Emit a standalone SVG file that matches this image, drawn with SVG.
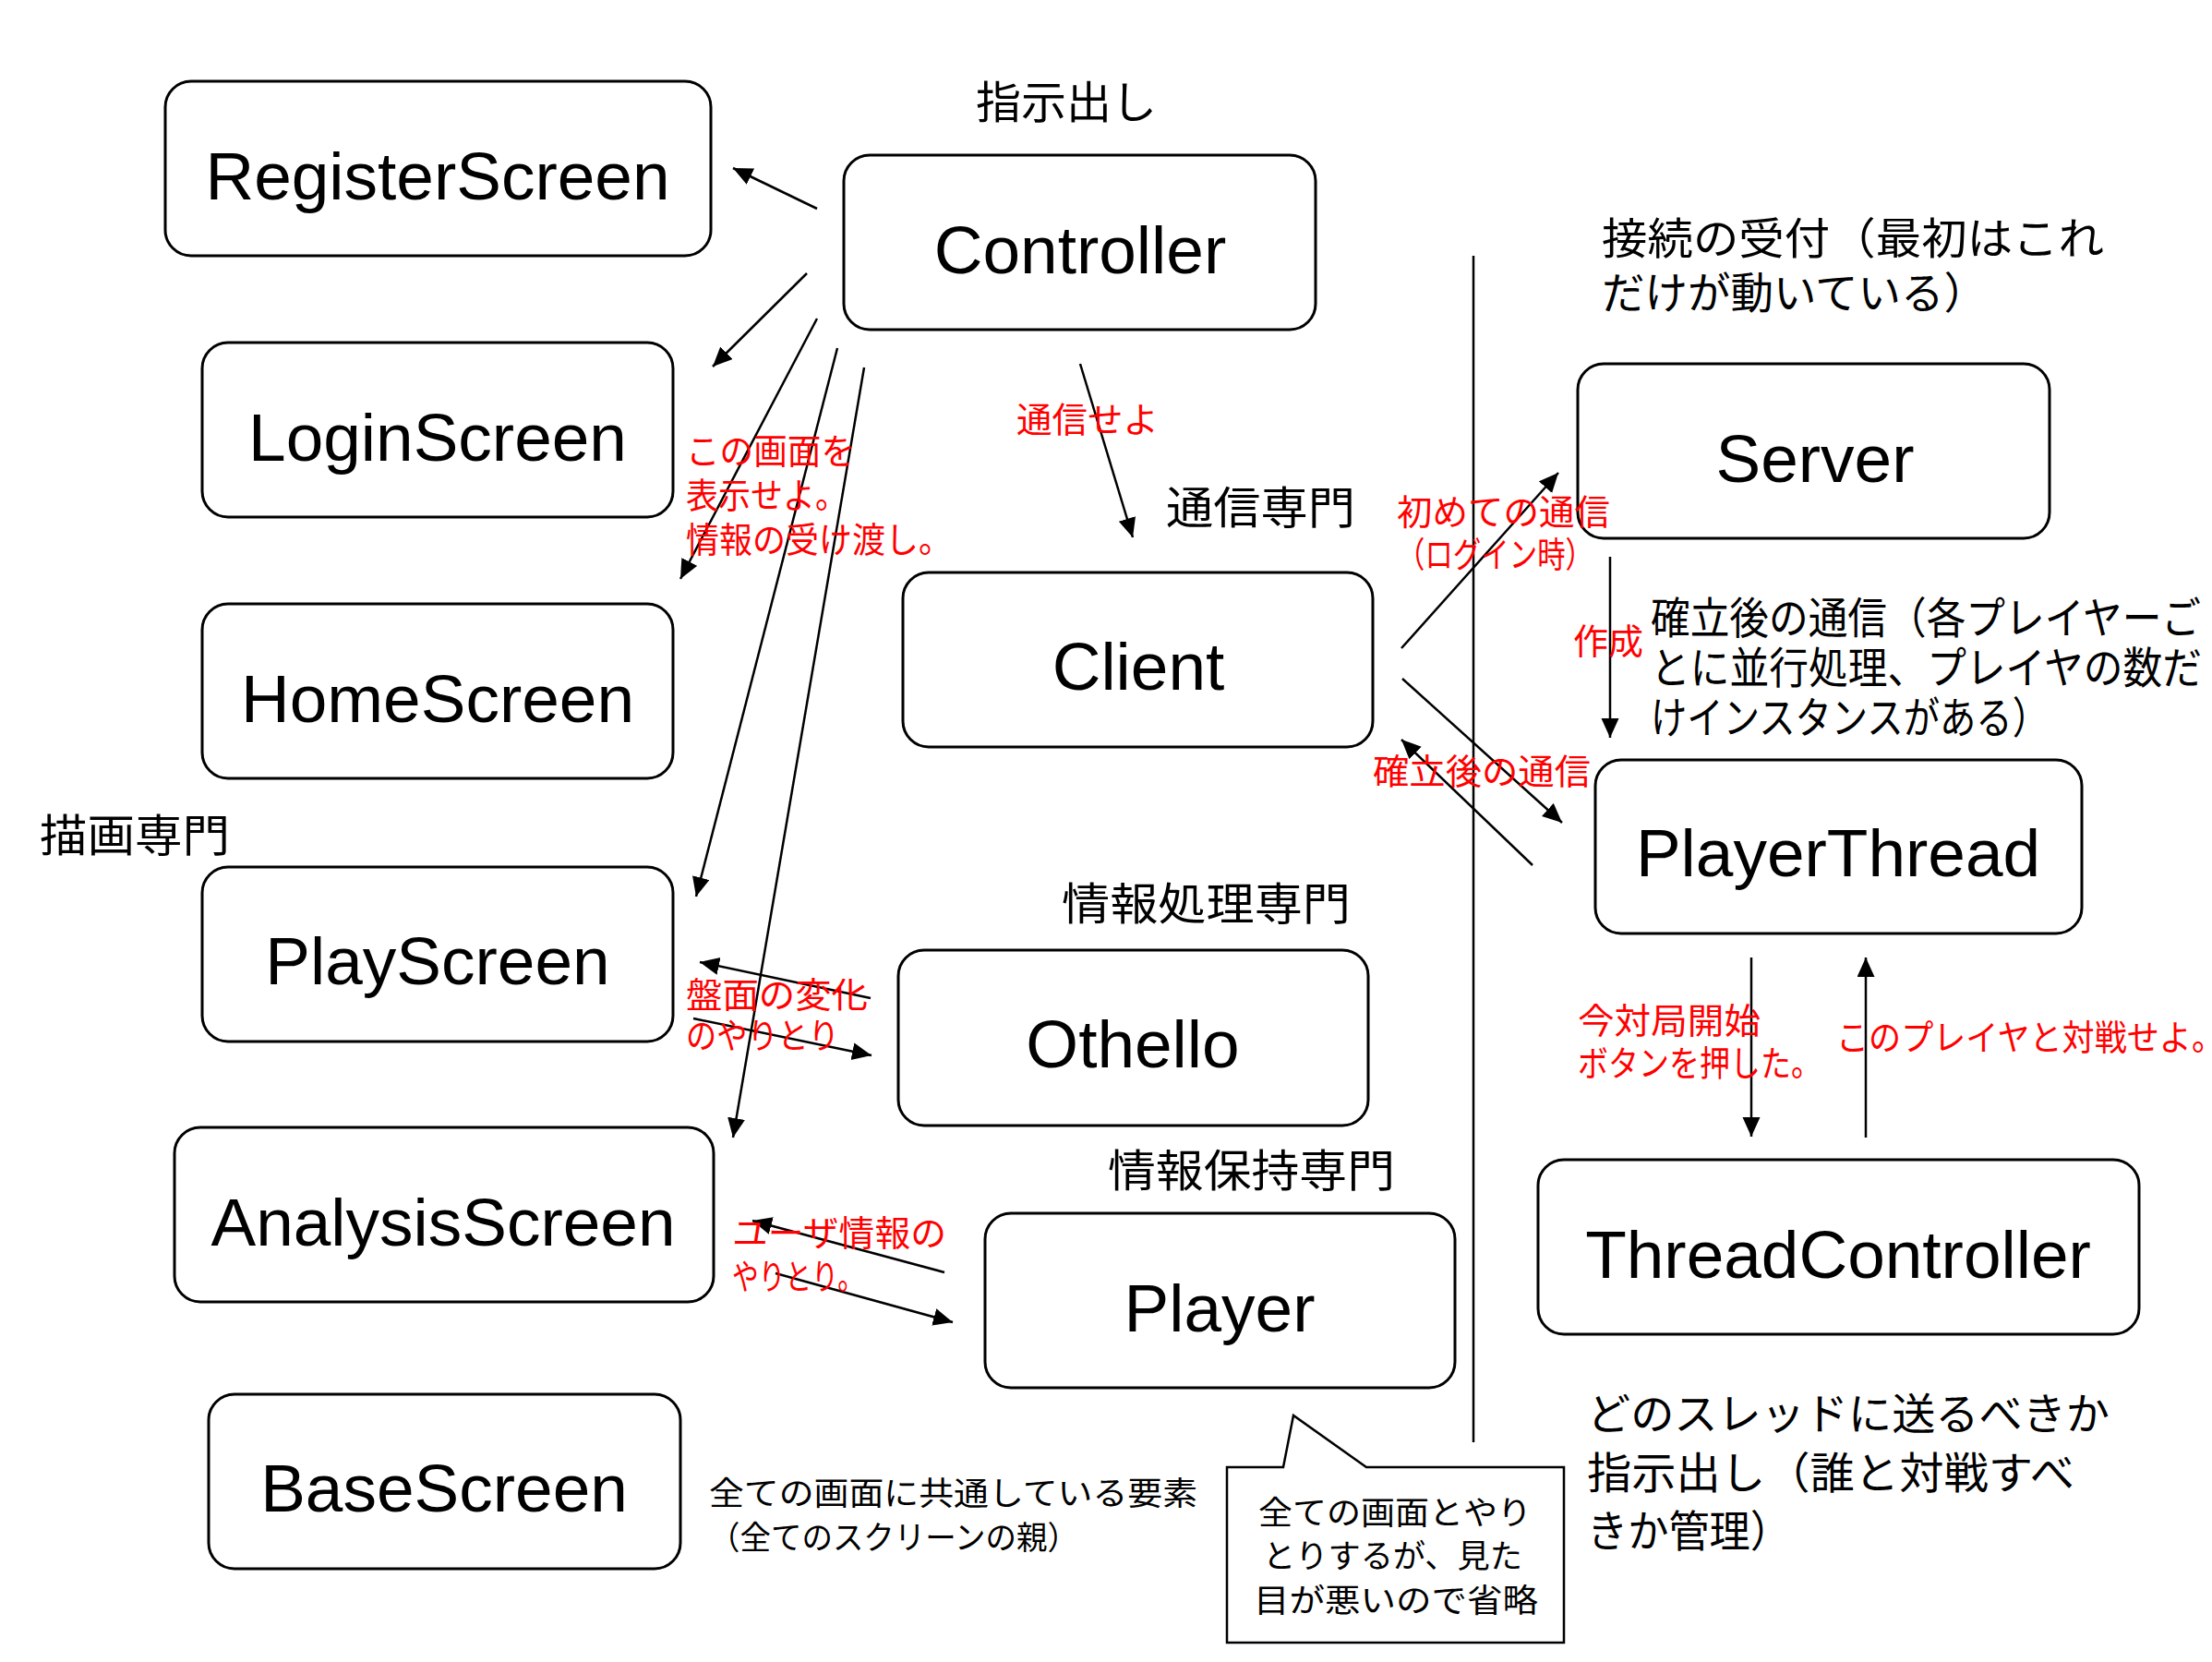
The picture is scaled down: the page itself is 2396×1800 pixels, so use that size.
<svg xmlns="http://www.w3.org/2000/svg" width="2396" height="1800" viewBox="0 0 2396 1800">
<defs>
<marker id="arr" markerUnits="userSpaceOnUse" markerWidth="22" markerHeight="20" refX="21" refY="9.5" orient="auto">
<path d="M0,0 L21,9.5 L0,19 Z" fill="#000"/>
</marker>
<style>
.box{fill:#fff;stroke:#000;stroke-width:3}
.lbl{font-family:"Liberation Sans",Arial,sans-serif;font-size:73px;text-anchor:middle;fill:#000}
.jp{font-family:"Noto Sans CJK JP",sans-serif;fill:#000}
.sec{font-size:48px}
.desc{font-size:47px}
.small{font-size:35px}
.red{fill:#ff0000;font-size:38px}
.conn{stroke:#000;stroke-width:2.5;fill:none;marker-end:url(#arr)}
.sep{stroke:#000;stroke-width:2.5;fill:none}
.callout{fill:#fff;stroke:#000;stroke-width:2.5}
</style>
</defs>
<rect width="2396" height="1800" fill="#fff"/>

<g id="connectors">
<path class="sep" d="M1596,277 L1596,1562"/>
<path class="conn" d="M885,226 L794,182"/>
<path class="conn" d="M874,296 L772,397"/>
<path class="conn" d="M885,345 L737,627"/>
<path class="conn" d="M907,377 L754,971"/>
<path class="conn" d="M936,398 L794,1232"/>
<path class="conn" d="M1170,394 L1227,582"/>
<path class="conn" d="M1518,702 L1688,512"/>
<path class="conn" d="M1519,735 L1692,891"/>
<path class="conn" d="M1660,937 L1518,801"/>
<path class="conn" d="M1744,603 L1744,799"/>
<path class="conn" d="M1897,1037 L1897,1231"/>
<path class="conn" d="M2021,1232 L2021,1037"/>
<path class="conn" d="M943,1081 L758,1042"/>
<path class="conn" d="M751,1103 L944,1143"/>
<path class="conn" d="M1023,1378 L815,1322"/>
<path class="conn" d="M840,1379 L1032,1432"/>
</g>

<g id="RegisterScreen"><rect class="box" x="179" y="88" width="591" height="189" rx="28"/><text class="lbl" x="474" y="216">RegisterScreen</text></g>
<g id="Controller"><rect class="box" x="914" y="168" width="511" height="189" rx="28"/><text class="lbl" x="1170" y="296">Controller</text></g>
<g id="LoginScreen"><rect class="box" x="219" y="371" width="510" height="189" rx="28"/><text class="lbl" x="474" y="499">LoginScreen</text></g>
<g id="HomeScreen"><rect class="box" x="219" y="654" width="510" height="189" rx="28"/><text class="lbl" x="474" y="782">HomeScreen</text></g>
<g id="PlayScreen"><rect class="box" x="219" y="939" width="510" height="189" rx="28"/><text class="lbl" x="474" y="1066">PlayScreen</text></g>
<g id="AnalysisScreen"><rect class="box" x="189" y="1221" width="584" height="189" rx="28"/><text class="lbl" x="480" y="1349">AnalysisScreen</text></g>
<g id="BaseScreen"><rect class="box" x="226" y="1510" width="511" height="189" rx="28"/><text class="lbl" x="481" y="1637">BaseScreen</text></g>
<g id="Client"><rect class="box" x="978" y="620" width="509" height="189" rx="28"/><text class="lbl" x="1233" y="747">Client</text></g>
<g id="Othello"><rect class="box" x="973" y="1029" width="509" height="190" rx="28"/><text class="lbl" x="1227" y="1156">Othello</text></g>
<g id="Player"><rect class="box" x="1067" y="1314" width="509" height="189" rx="28"/><text class="lbl" x="1321" y="1442">Player</text></g>
<g id="Server"><rect class="box" x="1709" y="394" width="511" height="189" rx="28"/><text class="lbl" x="1966" y="522">Server</text></g>
<g id="PlayerThread"><rect class="box" x="1728" y="823" width="527" height="188" rx="28"/><text class="lbl" x="1991" y="949">PlayerThread</text></g>
<g id="ThreadController"><rect class="box" x="1666" y="1256" width="651" height="189" rx="28"/><text class="lbl" x="1991" y="1384">ThreadController</text></g>

<g id="edge-labels">
<text class="jp red" x="743" y="502" textLength="183" lengthAdjust="spacingAndGlyphs">この画面を</text>
<text class="jp red" x="743" y="550" textLength="175" lengthAdjust="spacingAndGlyphs">表示せよ。</text>
<text class="jp red" x="743" y="598" textLength="288" lengthAdjust="spacingAndGlyphs">情報の受け渡し。</text>
<text class="jp red" x="1101" y="468" textLength="154" lengthAdjust="spacingAndGlyphs">通信せよ</text>
<text class="jp red" x="1513" y="568" textLength="231" lengthAdjust="spacingAndGlyphs">初めての通信</text>
<text class="jp red" x="1513" y="614" textLength="213" lengthAdjust="spacingAndGlyphs">（ログイン時）</text>
<text class="jp red" x="1704" y="708" textLength="76" lengthAdjust="spacingAndGlyphs">作成</text>
<text class="jp red" x="1487" y="849" textLength="236" lengthAdjust="spacingAndGlyphs">確立後の通信</text>
<text class="jp red" x="743" y="1091" textLength="197" lengthAdjust="spacingAndGlyphs">盤面の変化</text>
<text class="jp red" x="743" y="1135" textLength="166" lengthAdjust="spacingAndGlyphs">のやりとり</text>
<text class="jp red" x="1709" y="1119" textLength="198" lengthAdjust="spacingAndGlyphs">今対局開始</text>
<text class="jp red" x="1709" y="1165" textLength="264" lengthAdjust="spacingAndGlyphs">ボタンを押した。</text>
<text class="jp red" x="1989" y="1137" textLength="420" lengthAdjust="spacingAndGlyphs">このプレイヤと対戦せよ。</text>
<text class="jp red" x="793" y="1349" textLength="232" lengthAdjust="spacingAndGlyphs">ユーザ情報の</text>
<text class="jp red" x="793" y="1396" textLength="143" lengthAdjust="spacingAndGlyphs">やりとり。</text>
</g>

<g id="annotations">
<text class="jp sec" x="1057" y="128" textLength="196" lengthAdjust="spacingAndGlyphs">指示出し</text>
<text class="jp sec" x="1263" y="567" textLength="205" lengthAdjust="spacingAndGlyphs">通信専門</text>
<text class="jp sec" x="43" y="922" textLength="206" lengthAdjust="spacingAndGlyphs">描画専門</text>
<text class="jp sec" x="1150" y="996" textLength="313" lengthAdjust="spacingAndGlyphs">情報処理専門</text>
<text class="jp sec" x="1200" y="1285" textLength="311" lengthAdjust="spacingAndGlyphs">情報保持専門</text>
<text class="jp desc" x="1735" y="275" textLength="544" lengthAdjust="spacingAndGlyphs">接続の受付（最初はこれ</text>
<text class="jp desc" x="1735" y="334" textLength="417" lengthAdjust="spacingAndGlyphs">だけが動いている）</text>
<text class="jp desc" x="1788" y="686" textLength="596" lengthAdjust="spacingAndGlyphs">確立後の通信（各プレイヤーご</text>
<text class="jp desc" x="1788" y="740" textLength="597" lengthAdjust="spacingAndGlyphs">とに並行処理、プレイヤの数だ</text>
<text class="jp desc" x="1788" y="794" textLength="431" lengthAdjust="spacingAndGlyphs">けインスタンスがある）</text>
<text class="jp desc" x="1719" y="1548" textLength="566" lengthAdjust="spacingAndGlyphs">どのスレッドに送るべきか</text>
<text class="jp desc" x="1719" y="1612" textLength="528" lengthAdjust="spacingAndGlyphs">指示出し（誰と対戦すべ</text>
<text class="jp desc" x="1719" y="1675" textLength="221" lengthAdjust="spacingAndGlyphs">きか管理）</text>
<text class="jp small" x="768" y="1630" textLength="529" lengthAdjust="spacingAndGlyphs">全ての画面に共通している要素</text>
<text class="jp small" x="768" y="1678" textLength="400" lengthAdjust="spacingAndGlyphs">（全てのスクリーンの親）</text>
</g>

<g id="callout">
<path class="callout" d="M1329,1589 L1390,1589 L1401,1533 L1480,1589 L1694,1589 L1694,1779 L1329,1779 Z"/>
<text class="jp small" x="1363" y="1651" textLength="296" lengthAdjust="spacingAndGlyphs">全ての画面とやり</text>
<text class="jp small" x="1368" y="1698" textLength="281" lengthAdjust="spacingAndGlyphs">とりするが、見た</text>
<text class="jp small" x="1358" y="1746" textLength="308" lengthAdjust="spacingAndGlyphs">目が悪いので省略</text>
</g>
</svg>
